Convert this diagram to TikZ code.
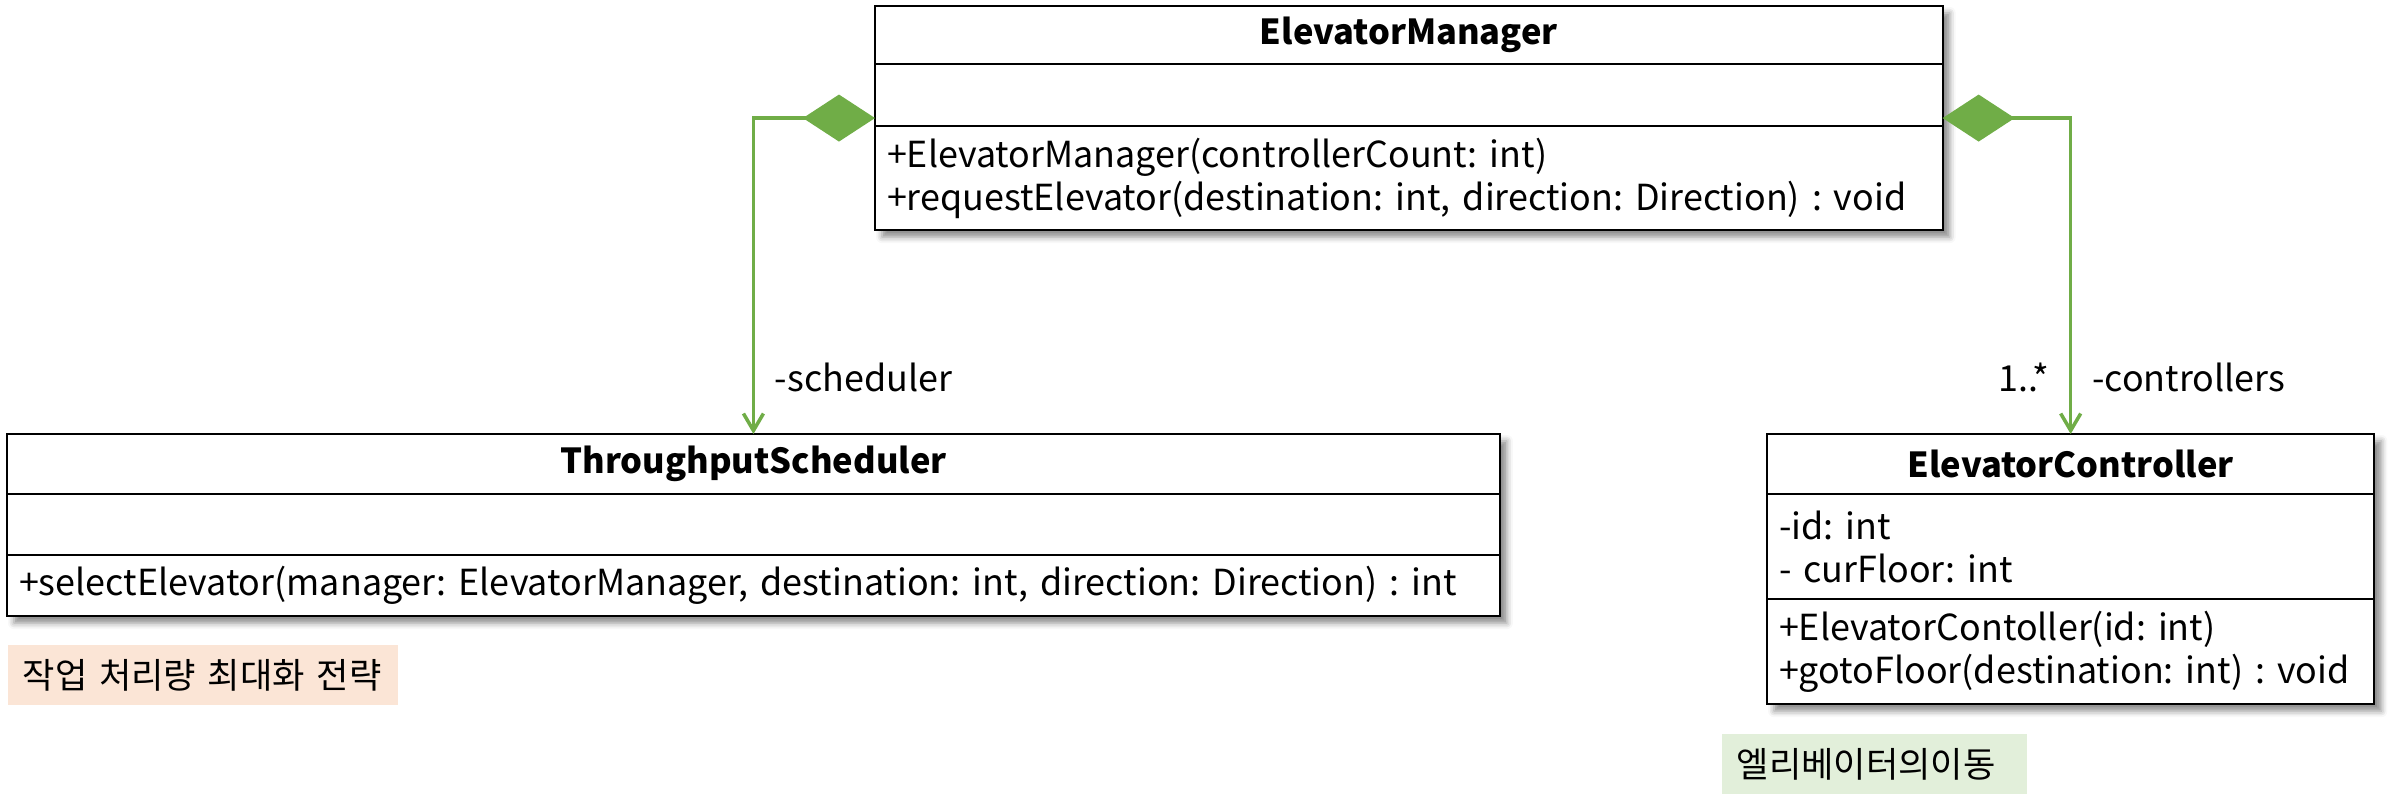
\documentclass[tikz,border=0pt]{standalone}
\usepackage{fontspec}
\setmainfont{Noto Sans CJK KR}
\usetikzlibrary{arrows.meta,positioning,fit,backgrounds,shadows.blur}
\definecolor{umlgreen}{HTML}{70AD47}
\definecolor{notepeach}{HTML}{FBE5D6}
\definecolor{notegreen}{HTML}{E2EFDA}
\newcommand{\mfont}{\fontsize{10.2pt}{12.2pt}\selectfont}
\frenchspacing

\begin{document}
\begin{tikzpicture}[x=0.01cm,y=-0.01cm,
  font=\mfont,
  part/.style={draw,line width=0.6pt,fill=white,outer sep=0pt,
               inner xsep=0.12cm,inner ysep=0pt,anchor=north west,align=left},
  head/.style={part,font=\fontsize{9.8pt}{12pt}\selectfont\bfseries,align=center},
  clsshadow/.style={fill=white,inner sep=0pt,
               blur shadow={shadow xshift=0.07cm,shadow yshift=-0.07cm,
                            shadow blur radius=0.06cm,shadow opacity=45}},
  comp/.style={umlgreen,line width=1pt,
               {Diamond[length=0.72cm,width=0.47cm]}-{Straight Barb[length=0.17cm,width=0.2cm]}},
  role/.style={text=black},
  note/.style={anchor=north west,inner xsep=0.15cm,inner ysep=0pt,
               minimum height=0.6cm,font=\fontsize{10pt}{12pt}\selectfont}]
\useasboundingbox (0,0) rectangle (2394,806);

% manager
\node[head,text width=10.43cm,minimum height=0.58cm] (emT) at (875,6) {ElevatorManager};
\node[part,text width=10.43cm,minimum height=0.62cm,below=0pt of emT] (emA) {};
\node[part,text width=10.43cm,minimum height=1.04cm,below=0pt of emA] (emO)
  {+ElevatorManager(controllerCount: int)\\+requestElevator(destination: int, direction: Direction) : void};

% scheduler
\node[head,text width=14.68cm,minimum height=0.60cm] (tsT) at (7,434) {ThroughputScheduler};
\node[part,text width=14.68cm,minimum height=0.61cm,below=0pt of tsT] (tsA) {};
\node[part,text width=14.68cm,minimum height=0.61cm,below=0pt of tsA] (tsO)
  {+selectElevator(manager: ElevatorManager, destination: int, direction: Direction) : int};

% controller
\node[head,text width=5.83cm,minimum height=0.60cm] (ecT) at (1767,434) {ElevatorController};
\node[part,text width=5.83cm,minimum height=1.05cm,below=0pt of ecT] (ecA)
  {-id: int\\- curFloor: int};
\node[part,text width=5.83cm,minimum height=1.05cm,below=0pt of ecA] (ecO)
  {+ElevatorContoller(id: int)\\+gotoFloor(destination: int) : void};

\begin{scope}[on background layer]
\node[clsshadow,fit=(emT)(emO)] {};
\node[clsshadow,fit=(tsT)(tsO)] {};
\node[clsshadow,fit=(ecT)(ecO)] {};
\end{scope}

% notes
\node[note,fill=notepeach,text width=3.6cm,below right=0.28cm and 0cm of tsO.south west] (tsNote) {작업 처리량 최대화 전략};
\node[note,fill=notegreen,text width=2.75cm,below right=0.29cm and -0.46cm of ecO.south west] (ecNote) {엘리베이터의이동};

% associations
\draw[comp] ([yshift=0.08cm]emA.south west) -| node[role,pos=0.91,right=0.08cm] {-scheduler} (tsT.north);
\draw[comp] ([yshift=0.08cm]emA.south east) -| node[role,pos=0.91,right=0.08cm] {-controllers}
  node[role,pos=0.91,left=0.08cm] {1..*} (ecT.north);
\end{tikzpicture}
\end{document}
